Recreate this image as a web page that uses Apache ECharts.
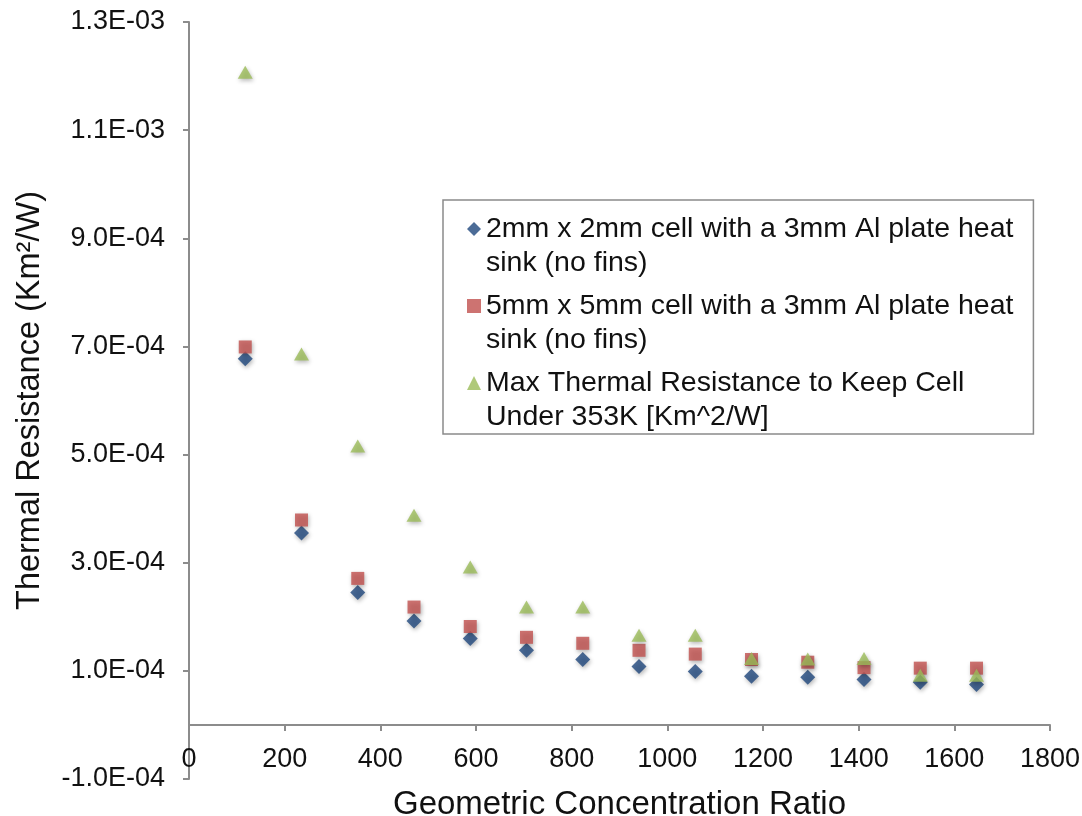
<!DOCTYPE html>
<html>
<head>
<meta charset="utf-8">
<script src="https://cdn.jsdelivr.net/npm/echarts@6/dist/echarts.min.js"></script>
<style>
html,body{margin:0;padding:0;background:#fff;}
#chart{width:1082px;height:816px;}
</style>
</head>
<body>
<div id="chart"></div>
<script>
// Geometric concentration ratio (x)
const concentration = [117.6, 235.2, 352.8, 470.4, 588, 705.6, 823.2, 940.8, 1058.4, 1176, 1293.6, 1411.2, 1528.8, 1646.4];
// Thermal resistance (Km^2/W)
const cell2mm = [6.77e-4, 3.55e-4, 2.45e-4, 1.92e-4, 1.60e-4, 1.38e-4, 1.21e-4, 1.08e-4, 9.9e-5, 9.0e-5, 8.8e-5, 8.4e-5, 7.9e-5, 7.5e-5];
const cell5mm = [6.99e-4, 3.79e-4, 2.71e-4, 2.18e-4, 1.82e-4, 1.62e-4, 1.51e-4, 1.38e-4, 1.31e-4, 1.21e-4, 1.16e-4, 1.06e-4, 1.05e-4, 1.05e-4];
const maxResistance = [1.207e-3, 6.86e-4, 5.16e-4, 3.88e-4, 2.92e-4, 2.18e-4, 2.18e-4, 1.66e-4, 1.66e-4, 1.23e-4, 1.22e-4, 1.23e-4, 9.2e-5, 9.2e-5];
const seriesNames = [
  '2mm x 2mm cell with a 3mm Al plate heat\nsink (no fins)',
  '5mm x 5mm cell with a 3mm Al plate heat\nsink (no fins)',
  'Max Thermal Resistance to Keep Cell\nUnder 353K [Km^2/W]'
];
const yTickValues = [-1e-4, 1e-4, 3e-4, 5e-4, 7e-4, 9e-4, 1.1e-3, 1.3e-3];
const xTickInterval = 200;

function pair(xs, ys){ return xs.map((x, i) => [x, ys[i]]); }
function sci(v){
  let s = Number(v).toExponential(1);
  let parts = s.split('e');
  let e = parts[1];
  let sign = e[0] === '-' ? '-' : '+';
  let d = e.replace(/^[+-]/, '');
  if (d.length < 2) d = '0' + d;
  return parts[0] + 'E' + sign + d;
}

const axisGray = '#8c8c8c';
const font = 'Liberation Sans, Arial, sans-serif';
const shadow = {shadowBlur: 4, shadowColor: 'rgba(0,0,0,0.35)', shadowOffsetX: 1, shadowOffsetY: 2};

const chart = echarts.init(document.getElementById('chart'), null, {renderer: 'canvas'});
chart.setOption({
  backgroundColor: '#fff',
  animation: false,
  textStyle: {fontFamily: font},
  grid: {left: 189, right: 32, top: 22, bottom: 37, containLabel: false, outerBoundsMode: 'none'},
  xAxis: {
    type: 'value', min: 0, max: 1800, interval: xTickInterval,
    offset: -54,
    name: 'Geometric Concentration Ratio', nameLocation: 'middle', nameGap: 63,
    nameTextStyle: {fontSize: 33, color: '#111', fontFamily: font},
    axisLine: {show: true, onZero: false, lineStyle: {color: axisGray, width: 2}},
    axisTick: {show: true, inside: false, length: 6, lineStyle: {color: axisGray, width: 2}},
    axisLabel: {fontSize: 27, color: '#111', margin: 21, fontFamily: font, formatter: v => String(v)},
    splitLine: {show: false}
  },
  yAxis: {
    type: 'value', min: -1e-4, max: 1.3e-3,
    name: 'Thermal Resistance (Km²/W)', nameLocation: 'middle', nameGap: 142,
    nameTextStyle: {fontSize: 32.5, color: '#111', fontFamily: font},
    axisLine: {show: true, onZero: false, lineStyle: {color: axisGray, width: 2}},
    axisTick: {show: true, inside: false, length: 6, customValues: yTickValues, lineStyle: {color: axisGray, width: 2}},
    axisLabel: {fontSize: 27, color: '#111', margin: 24, fontFamily: font, customValues: yTickValues, formatter: sci},
    splitLine: {show: false}
  },
  legend: {
    orient: 'vertical', left: 443, top: 200,
    padding: [-22, 20, 0, 24],
    itemGap: -25, itemWidth: 14, itemHeight: 14,
    borderColor: '#8a8a8a', borderWidth: 1.5, backgroundColor: '#fff',
    textStyle: {fontSize: 28.5, color: '#111', lineHeight: 34, fontFamily: font},
    formatter: name => ' \n' + name,
    itemStyle: {shadowBlur: 0, shadowOffsetX: 0, shadowOffsetY: 0, shadowColor: 'transparent'},
    data: [
      {name: seriesNames[0], icon: 'diamond'},
      {name: seriesNames[1], icon: 'rect'},
      {name: seriesNames[2], icon: 'triangle'}
    ]
  },
  series: [
    {name: seriesNames[0], type: 'scatter', symbol: 'diamond', symbolSize: 15,
     itemStyle: Object.assign({color: '#1f477d'}, shadow), data: pair(concentration, cell2mm)},
    {name: seriesNames[1], type: 'scatter', symbol: 'rect', symbolSize: 13,
     itemStyle: Object.assign({color: '#c0504d'}, shadow), data: pair(concentration, cell5mm)},
    {name: seriesNames[2], type: 'scatter', symbol: 'triangle', symbolSize: [15, 13],
     itemStyle: Object.assign({color: '#9bbb59'}, shadow), data: pair(concentration, maxResistance)}
  ]
});
</script>
</body>
</html>
